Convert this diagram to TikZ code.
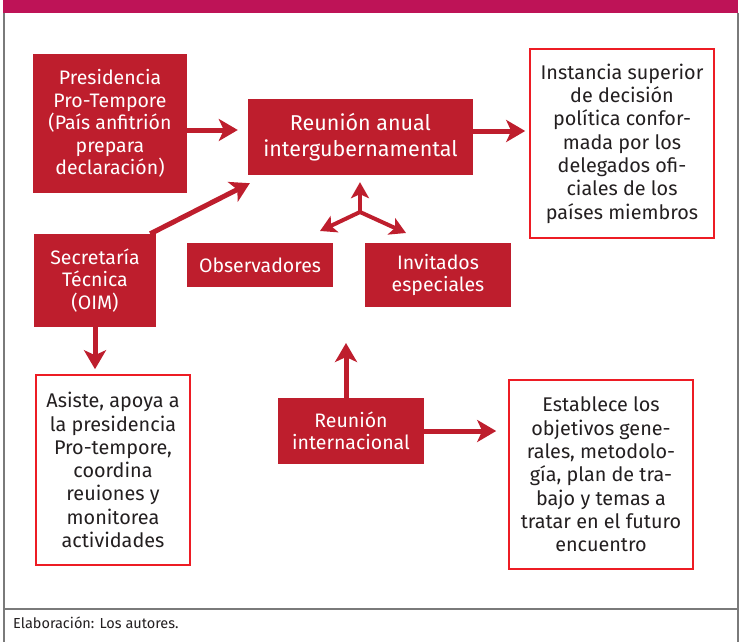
\documentclass[tikz,border=0pt]{standalone}
\usepackage{fontspec}
\setmainfont{Fira Sans}
\usetikzlibrary{arrows.meta}
\definecolor{boxred}{HTML}{BE1E2D}
\definecolor{linered}{HTML}{ED1C24}
\definecolor{barmag}{HTML}{BE1357}
\definecolor{txtdark}{HTML}{231F20}
\definecolor{framegray}{HTML}{7A7A7A}
\tikzset{
  redbox/.style={fill=boxred,text=white,align=center,inner sep=0pt,
    font=\fontsize{19.5}{22.5}\selectfont},
  outbox/.style={draw=linered,line width=1.6pt,fill=white,text=txtdark,
    align=center,inner sep=0pt,font=\fontsize{19.8}{23.3}\selectfont},
  arr/.style={draw=boxred,line width=5pt,-{Stealth[length=19pt,width=22pt,inset=5pt]}},
  arrsmall/.style={draw=boxred,line width=4pt,-{Stealth[length=16pt,width=18pt,inset=4pt]}},
}
\begin{document}
\begin{tikzpicture}[x=1pt,y=-1pt]
\useasboundingbox (0,0) rectangle (741,642);
% marco
\fill[barmag] (3,0) rectangle (738,13);
\draw[framegray,line width=1.2pt] (4,13) -- (4,642);
\draw[framegray,line width=1.2pt] (738,13) -- (738,642);
\draw[framegray,line width=1.2pt] (4,609) -- (738,609);
\node[anchor=west,text=txtdark,inner sep=0pt,font=\fontsize{14.5}{16}\selectfont] (fuente) at (13,623) {Elaboración: Los autores.};
% cajas rojas
\node[redbox,minimum width=154pt,minimum height=139pt] (pres) at (110,123.5) {Presidencia\\Pro-Tempore\\(País anfitrión\\prepara\\declaración)};
\node[redbox,minimum width=225pt,minimum height=76pt,font=\fontsize{21.5}{26}\selectfont] (anual) at (360.5,137) {Reunión anual\\intergubernamental};
\node[redbox,minimum width=122pt,minimum height=93pt] (secr) at (95,280.5) {Secretaría\\Técnica\\(OIM)};
\node[redbox,minimum width=146pt,minimum height=44pt] (obs) at (260,265) {Observadores};
\node[redbox,minimum width=146pt,minimum height=64pt] (invit) at (438,275) {Invitados\\especiales};
\node[redbox,minimum width=146pt,minimum height=66pt] (intl) at (351,431) {Reunión\\internacional};
% cajas de texto
\node[outbox,minimum width=184pt,minimum height=189pt] (inst) at (622,143.5) {Instancia superior\\de decisión\\política confor-\\mada por los\\delegados ofi-\\ciales de los\\países miembros};
\node[outbox,minimum width=154pt,minimum height=190pt] (asiste) at (113,470) {Asiste, apoya a\\la presidencia\\Pro-tempore,\\coordina\\reuiones y\\monitorea\\actividades};
\node[outbox,minimum width=184pt,minimum height=189pt] (estab) at (601,474.5) {Establece los\\objetivos gene-\\rales, metodolo-\\gía, plan de tra-\\bajo y temas a\\tratar en el futuro\\encuentro};
% flechas
\draw[arr,shorten >=10pt] ([yshift=-6.5pt]pres.east) -- ([yshift=-6.5pt]pres.east -| anual.west);
\draw[arr,shorten >=4pt] ([yshift=6pt]anual.east) -- ([yshift=6pt]anual.east -| inst.west);
\draw[arr] ([xshift=-6pt]secr.north east) -- ([xshift=2pt,yshift=-8pt]anual.south west);
\draw[arr,shorten >=5pt] (secr.south) -- (secr.south |- asiste.north);
\coordinate (hub) at (360,212);
\coordinate (hubobs) at (320,231);
\coordinate (hubinv) at (406,233);
\draw[arrsmall,shorten >=7pt] (hub) -- (hub |- anual.south);
\draw[arrsmall] (hub) -- (hubobs);
\draw[arrsmall] (hub) -- (hubinv);
\coordinate (intlup) at (346,343);
\draw[arr] (intlup |- intl.north) -- (intlup);
\draw[arr,shorten >=12pt] (intl.east) -- (intl.east -| estab.west);
\end{tikzpicture}
\end{document}
